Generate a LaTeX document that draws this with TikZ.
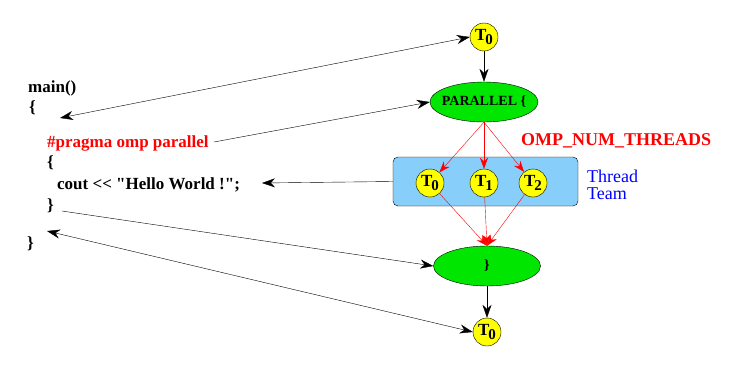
\documentclass[tikz,border=0pt]{standalone}
\usepackage{fontspec}
\setmainfont{Liberation Serif}[Ligatures=TeXOff]
\usetikzlibrary{arrows.meta,shapes.geometric}
\definecolor{ygold}{RGB}{255,255,0}
\definecolor{pgreen}{RGB}{0,230,0}
\definecolor{tblue}{RGB}{135,206,250}
\begin{document}
\begin{tikzpicture}[x=1pt,y=-1pt,
  thr/.style={circle,draw=black,fill=ygold,minimum size=28pt,inner sep=0pt,font=\fontsize{17}{17}\selectfont\bfseries},
  ell/.style={ellipse,draw=black,fill=pgreen,minimum width=108pt,minimum height=40pt,inner sep=0pt},
  elltext/.style={label={[font=\fontsize{14}{14}\selectfont\bfseries]center:#1}},
  code/.style={anchor=west,inner sep=0pt,font=\fontsize{17}{17}\selectfont\bfseries},
  blk/.style={-{Stealth[length=13pt,width=9pt]},black},
  dbl/.style={{Stealth[length=13pt,width=9pt]}-{Stealth[length=13pt,width=9pt]},black},
  redarr/.style={-{Stealth[length=11pt,width=8pt]},red}
]
\useasboundingbox (0,0) rectangle (737,375);
% blue team box
\node[draw=black,fill=tblue,rounded corners=5pt,minimum width=185pt,minimum height=49pt,inner sep=0pt] (team) at (485.5,181.5) {};
% nodes
\node[thr] (t0top) at (484,37) {T\kern-1pt\raisebox{-4pt}{\fontsize{15}{15}\selectfont 0}};
\node[ell,elltext={PARALLEL \{}] (par) at (484,102) {};
\node[thr] (ta) at (430,183) {T\kern-1pt\raisebox{-4pt}{\fontsize{15}{15}\selectfont 0}};
\node[thr] (tb) at (484,183) {T\kern-1pt\raisebox{-4pt}{\fontsize{15}{15}\selectfont 1}};
\node[thr] (tc) at (533,183) {T\kern-1pt\raisebox{-4pt}{\fontsize{15}{15}\selectfont 2}};
\node[ell,minimum width=107pt,elltext={\}}] (end) at (487,266) {};
\node[thr] (t0bot) at (487,332) {T\kern-1pt\raisebox{-4pt}{\fontsize{15}{15}\selectfont 0}};
\node[anchor=west,inner sep=0pt,text=red,font=\fontsize{18}{18}\selectfont\bfseries] (omp) at (521,141) {OMP\_NUM\_THREADS};
\node[anchor=north west,inner sep=0pt,align=left,text=blue,font=\fontsize{18}{17}\selectfont] (tt) at (587,170) {Thread\\Team};
% code
\node[code] (main) at (28,88) {main()};
\node[code] (ob1) at (29,108) {\{};
\node[code,text=red] (prag) at (47,143) {\#pragma omp parallel};
\node[code] (ob2) at (47,163) {\{};
\node[code] (cout) at (57,185) {cout << "Hello World !";};
\node[code] (cb2) at (47,206) {\}};
\node[code] (cb1) at (27,244) {\}};
\coordinate (m1) at (60,118);
\coordinate (m2) at (262,183);
\coordinate (m3) at (62,211);
\coordinate (m4) at (47,231);
\coordinate (pe) at (214,142);
% connectors
\draw[blk] (t0top) -- (par);
\draw[blk] (end) -- (t0bot);
\draw[dbl] (m1) -- (t0top.west);
\draw[blk] (pe) -- (par.west);
\draw[blk] (team.west) -- (m2);
\draw[blk] (m3) -- (end.west);
\draw[dbl] (m4) -- (t0bot.west);
\draw[redarr] (par.south) -- (ta);
\draw[redarr] (par.south) -- (tb);
\draw[redarr] (par.south) -- (tc);
\draw[redarr] (ta) -- (end.north);
\draw[redarr] (tb) -- (end.north);
\draw[redarr] (tc) -- (end.north);
\end{tikzpicture}
\end{document}
